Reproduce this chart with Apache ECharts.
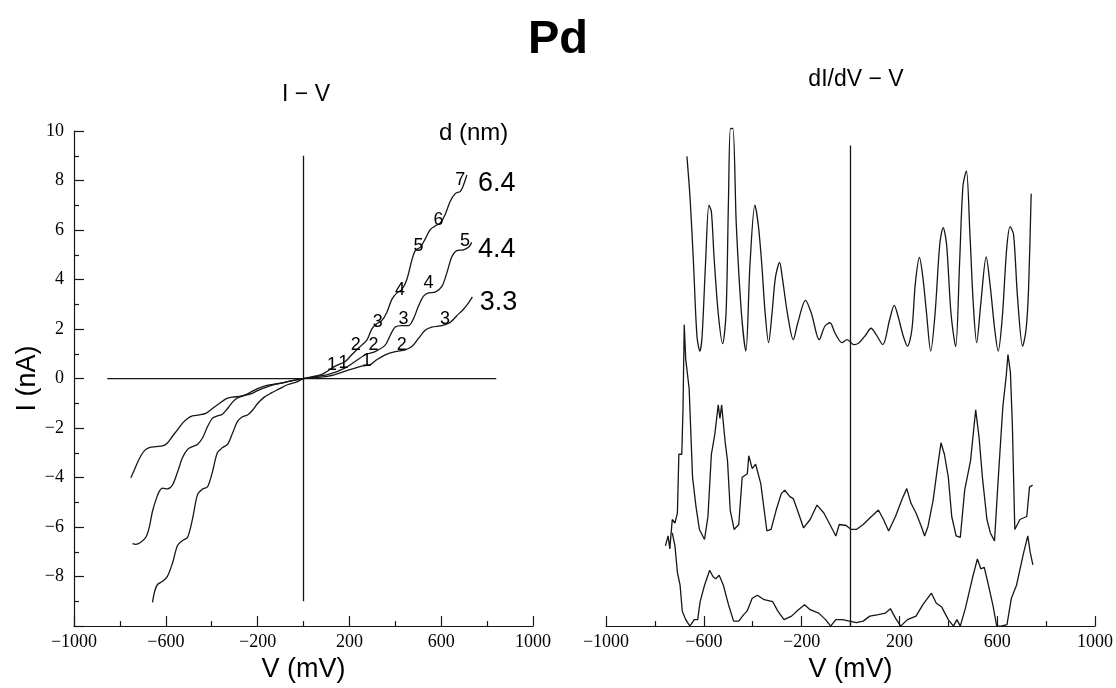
<!DOCTYPE html>
<html>
<head>
<meta charset="utf-8">
<title>Pd I-V and dI/dV-V</title>
<script src="https://cdn.jsdelivr.net/npm/echarts@6/dist/echarts.min.js"></script>
<style>
  html, body { margin: 0; padding: 0; background: #fff; }
  #main { width: 1116px; height: 688px; }
</style>
</head>
<body>
<div id="main"></div>
<script>
// I-V curves, [V (mV), I (nA)]
const iv64 = [
  [-658, -9.04], [-648, -8.58], [-636, -8.32], [-614, -8.19], [-593, -7.99], [-571, -7.46],
  [-549, -6.74], [-527, -6.54], [-505, -6.41], [-484, -5.69], [-462, -4.7], [-440, -4.46],
  [-418, -4.37], [-397, -3.78], [-375, -2.99], [-353, -2.79], [-331, -2.66], [-309, -2.2],
  [-288, -1.74], [-266, -1.54], [-244, -1.47], [-222, -1.28], [-200, -1.01], [-171, -0.75],
  [-142, -0.59], [-106, -0.42], [-70, -0.25], [-26, -0.12], [0, 0],
  [80, 0.17], [138, 0.5], [182, 0.69], [203, 0.89], [232, 1.16], [254, 1.35], [276, 1.55],
  [298, 2.01], [319, 2.21], [341, 2.34], [363, 2.67], [385, 3.2], [407, 3.46], [428, 3.59],
  [450, 3.99], [472, 4.78], [487, 5.17], [508, 5.3], [530, 5.63], [552, 6.02], [574, 6.16],
  [596, 6.29], [617, 6.62], [639, 7.15], [661, 7.47], [683, 7.56], [694, 7.74], [712, 8.22]
];
const iv44 = [
  [-745, -6.67], [-731, -6.7], [-709, -6.61], [-687, -6.41], [-672, -6.01], [-658, -5.36],
  [-643, -4.9], [-629, -4.57], [-614, -4.43], [-593, -4.46], [-571, -4.3], [-549, -3.78],
  [-527, -3.19], [-505, -2.86], [-484, -2.75], [-462, -2.66], [-440, -2.4], [-418, -1.94],
  [-397, -1.61], [-375, -1.51], [-353, -1.44], [-331, -1.21], [-309, -0.95], [-288, -0.78],
  [-259, -0.69], [-230, -0.62], [-200, -0.49], [-164, -0.36], [-128, -0.25], [-84, -0.16],
  [-41, -0.07], [0, 0],
  [109, 0.17], [182, 0.43], [225, 0.69], [269, 0.96], [312, 1.09], [356, 1.35], [378, 1.75],
  [400, 2.08], [428, 2.14], [458, 2.14], [479, 2.41], [501, 2.93], [523, 3.33], [545, 3.46],
  [574, 3.49], [603, 3.72], [624, 4.25], [646, 4.91], [668, 5.17], [697, 5.2], [719, 5.3],
  [733, 5.5]
];
const iv33 = [
  [-752, -4.01], [-738, -3.71], [-716, -3.25], [-694, -2.92], [-672, -2.79], [-643, -2.75],
  [-614, -2.72], [-593, -2.6], [-571, -2.33], [-549, -2.07], [-527, -1.8], [-505, -1.61],
  [-484, -1.51], [-455, -1.47], [-426, -1.41], [-397, -1.21], [-367, -1.01], [-338, -0.82],
  [-309, -0.75], [-280, -0.72], [-251, -0.65], [-222, -0.51], [-186, -0.36], [-149, -0.26],
  [-106, -0.2], [-55, -0.09], [0, 0],
  [109, 0.1], [182, 0.3], [254, 0.5], [291, 0.56], [319, 0.76], [356, 0.96], [400, 1.09],
  [443, 1.16], [472, 1.29], [501, 1.62], [530, 1.95], [559, 2.08], [603, 2.14], [639, 2.27],
  [668, 2.54], [697, 2.8], [719, 3.06], [736, 3.3]
];

// dI/dV curves, [V (mV), arbitrary units]
const didv64 = [
  [-669, 9.43], [-656, 8.58], [-642, 7.27], [-628, 5.82], [-616, 5.52], [-607, 5.82], [-593, 7.27],
  [-579, 8.45], [-569, 8.32], [-558, 7.4], [-541, 6.28], [-523, 5.67], [-509, 6.28], [-499, 8.58],
  [-491, 9.99], [-481, 9.99], [-467, 8.05], [-446, 6.28], [-428, 5.52], [-411, 7.27], [-391, 8.45],
  [-377, 8.05], [-363, 7.27], [-349, 6.28], [-335, 5.69], [-321, 6.28], [-307, 7.0], [-290, 7.3],
  [-279, 7.0], [-258, 6.28], [-234, 5.75], [-216, 6.08], [-184, 6.54], [-160, 6.28], [-128, 5.75],
  [-105, 6.02], [-84, 6.09], [-63, 5.88], [-35, 5.69], [-14, 5.75], [14, 5.65], [35, 5.69],
  [63, 5.85], [84, 5.98], [105, 5.85], [132, 5.65], [160, 6.15], [179, 6.44], [195, 6.21],
  [216, 5.82], [233, 5.62], [251, 5.95], [265, 6.87], [282, 7.4], [296, 7.0], [311, 6.28],
  [328, 5.52], [346, 6.28], [365, 7.66], [379, 8.0], [393, 7.66], [411, 6.28], [430, 5.61],
  [446, 7.27], [460, 8.84], [474, 9.14], [488, 7.92], [502, 6.48], [516, 5.69], [533, 6.48],
  [555, 7.41], [572, 6.8], [590, 5.95], [604, 5.52], [621, 6.21], [639, 7.59], [653, 8.02],
  [667, 7.86], [683, 6.61], [704, 5.62], [718, 5.95], [728, 6.74], [739, 8.68]
];
const didv44 = [
  [-757, 1.61], [-746, 1.81], [-739, 1.55], [-729, 2.14], [-718, 2.07], [-708, 2.27], [-702, 3.45],
  [-690, 3.45], [-685, 4.37], [-680, 6.05], [-674, 5.36], [-660, 4.77], [-646, 2.99], [-632, 2.4],
  [-618, 1.94], [-597, 1.74], [-583, 2.2], [-569, 3.45], [-555, 3.85], [-541, 4.44], [-534, 4.17],
  [-527, 4.44], [-513, 3.71], [-503, 3.32], [-492, 2.33], [-476, 1.94], [-457, 2.04], [-443, 2.99],
  [-422, 3.06], [-416, 3.42], [-402, 3.16], [-388, 3.25], [-367, 2.86], [-353, 2.33], [-342, 1.91],
  [-325, 1.94], [-304, 2.33], [-283, 2.66], [-269, 2.73], [-248, 2.6], [-234, 2.56], [-213, 2.27],
  [-192, 1.97], [-165, 2.14], [-137, 2.43], [-109, 2.27], [-81, 2.01], [-60, 1.81], [-46, 2.04],
  [-18, 2.02], [3, 1.94], [24, 1.94], [52, 2.04], [79, 2.17], [114, 2.33], [135, 2.14],
  [156, 1.91], [184, 2.2], [212, 2.56], [230, 2.76], [247, 2.47], [268, 2.27], [289, 2.01],
  [303, 1.81], [317, 2.0], [338, 2.53], [356, 3.19], [370, 3.68], [384, 3.45], [400, 2.99],
  [414, 2.2], [432, 1.81], [449, 1.78], [467, 2.73], [491, 3.32], [512, 4.34], [526, 3.78],
  [540, 2.96], [558, 2.14], [572, 1.87], [589, 1.71], [603, 2.86], [623, 4.4], [637, 5.03],
  [644, 5.45], [654, 5.1], [662, 4.04], [672, 1.94], [693, 2.14], [721, 2.2], [732, 2.79],
  [745, 2.83]
];
const didv33 = [
  [-729, 1.87], [-718, 1.61], [-708, 1.08], [-697, 0.82], [-688, 0.3], [-674, 0.13], [-657, 0],
  [-639, 0.13], [-625, 0.13], [-615, 0.49], [-597, 0.82], [-576, 1.12], [-562, 0.99], [-551, 0.95],
  [-537, 1.02], [-520, 0.82], [-499, 0.43], [-478, 0.1], [-457, 0.1], [-437, 0.23], [-423, 0.3],
  [-402, 0.56], [-381, 0.62], [-353, 0.53], [-318, 0.49], [-297, 0.3], [-272, 0.13], [-241, 0.2],
  [-213, 0.33], [-188, 0.43], [-165, 0.33], [-130, 0.26], [-102, 0.13], [-81, 0], [-60, 0.13],
  [-32, 0.13], [-4, 0.1], [24, 0.07], [52, 0.1], [79, 0.2], [114, 0.23], [142, 0.26], [163, 0.35],
  [184, 0.16], [205, 0], [233, 0.13], [268, 0.2], [296, 0.43], [331, 0.66], [351, 0.46],
  [372, 0.39], [400, 0.13], [421, 0], [435, 0.13], [449, 0], [470, 0.36], [498, 0.95],
  [519, 1.35], [533, 1.15], [547, 1.18], [561, 0.89], [582, 0.43], [598, 0], [616, 0],
  [640, 0.03], [658, 0.56], [679, 0.82], [707, 1.45], [725, 1.81], [735, 1.48], [746, 1.23]
];

// reference cross lines
const ivZeroH = [[-855, 0], [840, 0]];
const ivZeroV = [[0, -9], [0, 9]];
const didvZeroV = [[0, 0], [0, 9.65]];

// annotations on the I-V panel: [V, I, text]
const stepLabels = [
  [124, 0.56, '1'], [228, 1.35, '2'], [324, 2.27, '3'], [421, 3.59, '4'], [501, 5.37, '5'],
  [588, 6.42, '6'], [683, 8.0, '7'],
  [174, 0.63, '1'], [305, 1.35, '2'], [436, 2.41, '3'], [545, 3.85, '4'], [704, 5.57, '5'],
  [276, 0.7, '1'], [428, 1.35, '2'], [617, 2.41, '3']
];
const sizeLabels = [[842, 7.87, '6.4'], [842, 5.23, '4.4'], [850, 3.06, '3.3']];
const unitLabel = [[741, 9.92, 'd (nm)']];

const vTicks = { min: -1000, max: 1000, interval: 400 };

const minus = v => String(v).replace('-', '\u2212');
const ink = '#161616';
const serif = 'Liberation Serif';
const sans = 'Liberation Sans';

const chart = echarts.init(document.getElementById('main'));

const xAxisBase = (gridIndex, nameGap) => ({
  gridIndex,
  type: 'value',
  min: vTicks.min,
  max: vTicks.max,
  interval: vTicks.interval,
  name: 'V (mV)',
  nameLocation: 'middle',
  nameGap,
  nameTextStyle: { fontFamily: sans, fontSize: 27, color: '#000' },
  axisLine: { onZero: false, lineStyle: { color: ink, width: 1.2 } },
  axisTick: { inside: true, length: 10, lineStyle: { color: ink, width: 1.2 } },
  minorTick: { show: true, splitNumber: 2, length: 5, lineStyle: { color: ink, width: 1.2 } },
  splitLine: { show: false },
  axisLabel: { formatter: minus, fontFamily: serif, fontSize: 18, color: '#000', margin: 7 }
});

const lineStyle = { color: ink, width: 1.3 };

const curve = (data, xi, smooth) => ({
  type: 'line',
  data,
  xAxisIndex: xi,
  yAxisIndex: xi,
  smooth,
  showSymbol: false,
  lineStyle,
  silent: true,
  z: 3
});

const titles = [
  { type: 'text', x: 558, y: 40, style: { text: 'Pd', fontFamily: sans, fontWeight: 'bold', fontSize: 47, fill: '#000', align: 'center', verticalAlign: 'middle' } },
  { type: 'text', x: 306, y: 95, style: { text: 'I \u2212 V', fontFamily: sans, fontSize: 23, fill: '#000', align: 'center', verticalAlign: 'middle' } },
  { type: 'text', x: 856, y: 80, style: { text: 'dI/dV \u2212 V', fontFamily: sans, fontSize: 23, fill: '#000', align: 'center', verticalAlign: 'middle' } }
];

chart.setOption({
  backgroundColor: '#fff',
  animation: false,
  graphic: titles,
  grid: [
    { left: 74, right: 583, top: 131, bottom: 50 },
    { left: 606, right: 19, top: 128, bottom: 53 }
  ],
  xAxis: [xAxisBase(0, 22), xAxisBase(1, 24)],
  yAxis: [
    {
      gridIndex: 0,
      type: 'value',
      min: -10,
      max: 10,
      interval: 2,
      name: 'I (nA)',
      nameLocation: 'middle',
      nameRotate: 90,
      nameGap: 30,
      nameTextStyle: { fontFamily: sans, fontSize: 27, color: '#000' },
      axisLine: { show: true, onZero: false, lineStyle: { color: ink, width: 1.2 } },
      axisTick: { show: true, inside: true, length: 10, lineStyle: { color: ink, width: 1.2 } },
      minorTick: { show: true, splitNumber: 2, length: 5, lineStyle: { color: ink, width: 1.2 } },
      splitLine: { show: false },
      axisLabel: {
        formatter: v => (v === -10 ? '' : minus(v)),
        fontFamily: serif, fontSize: 18, color: '#000', margin: 10
      }
    },
    { gridIndex: 1, type: 'value', min: 0, max: 10, show: false, splitLine: { show: false } }
  ],
  series: [
    curve(ivZeroH, 0, false),
    curve(ivZeroV, 0, false),
    curve(iv64, 0, 0.3),
    curve(iv44, 0, 0.3),
    curve(iv33, 0, 0.3),
    curve(didvZeroV, 1, false),
    curve(didv64, 1, 0.3),
    curve(didv44, 1, false),
    curve(didv33, 1, false)
  ]
});

// place the annotation text through the I-V panel's scales
const annotate = (list, fontSize) => list.map(d => {
  const p = chart.convertToPixel({ gridIndex: 0 }, [d[0], d[1]]);
  return {
    type: 'text', x: p[0], y: p[1], z: 10,
    style: { text: d[2], fontFamily: sans, fontSize, fill: '#000', align: 'center', verticalAlign: 'middle' }
  };
});

chart.setOption({
  graphic: titles.concat(
    annotate(stepLabels, 18),
    annotate(sizeLabels, 27),
    annotate(unitLabel, 24)
  )
});
</script>
</body>
</html>
